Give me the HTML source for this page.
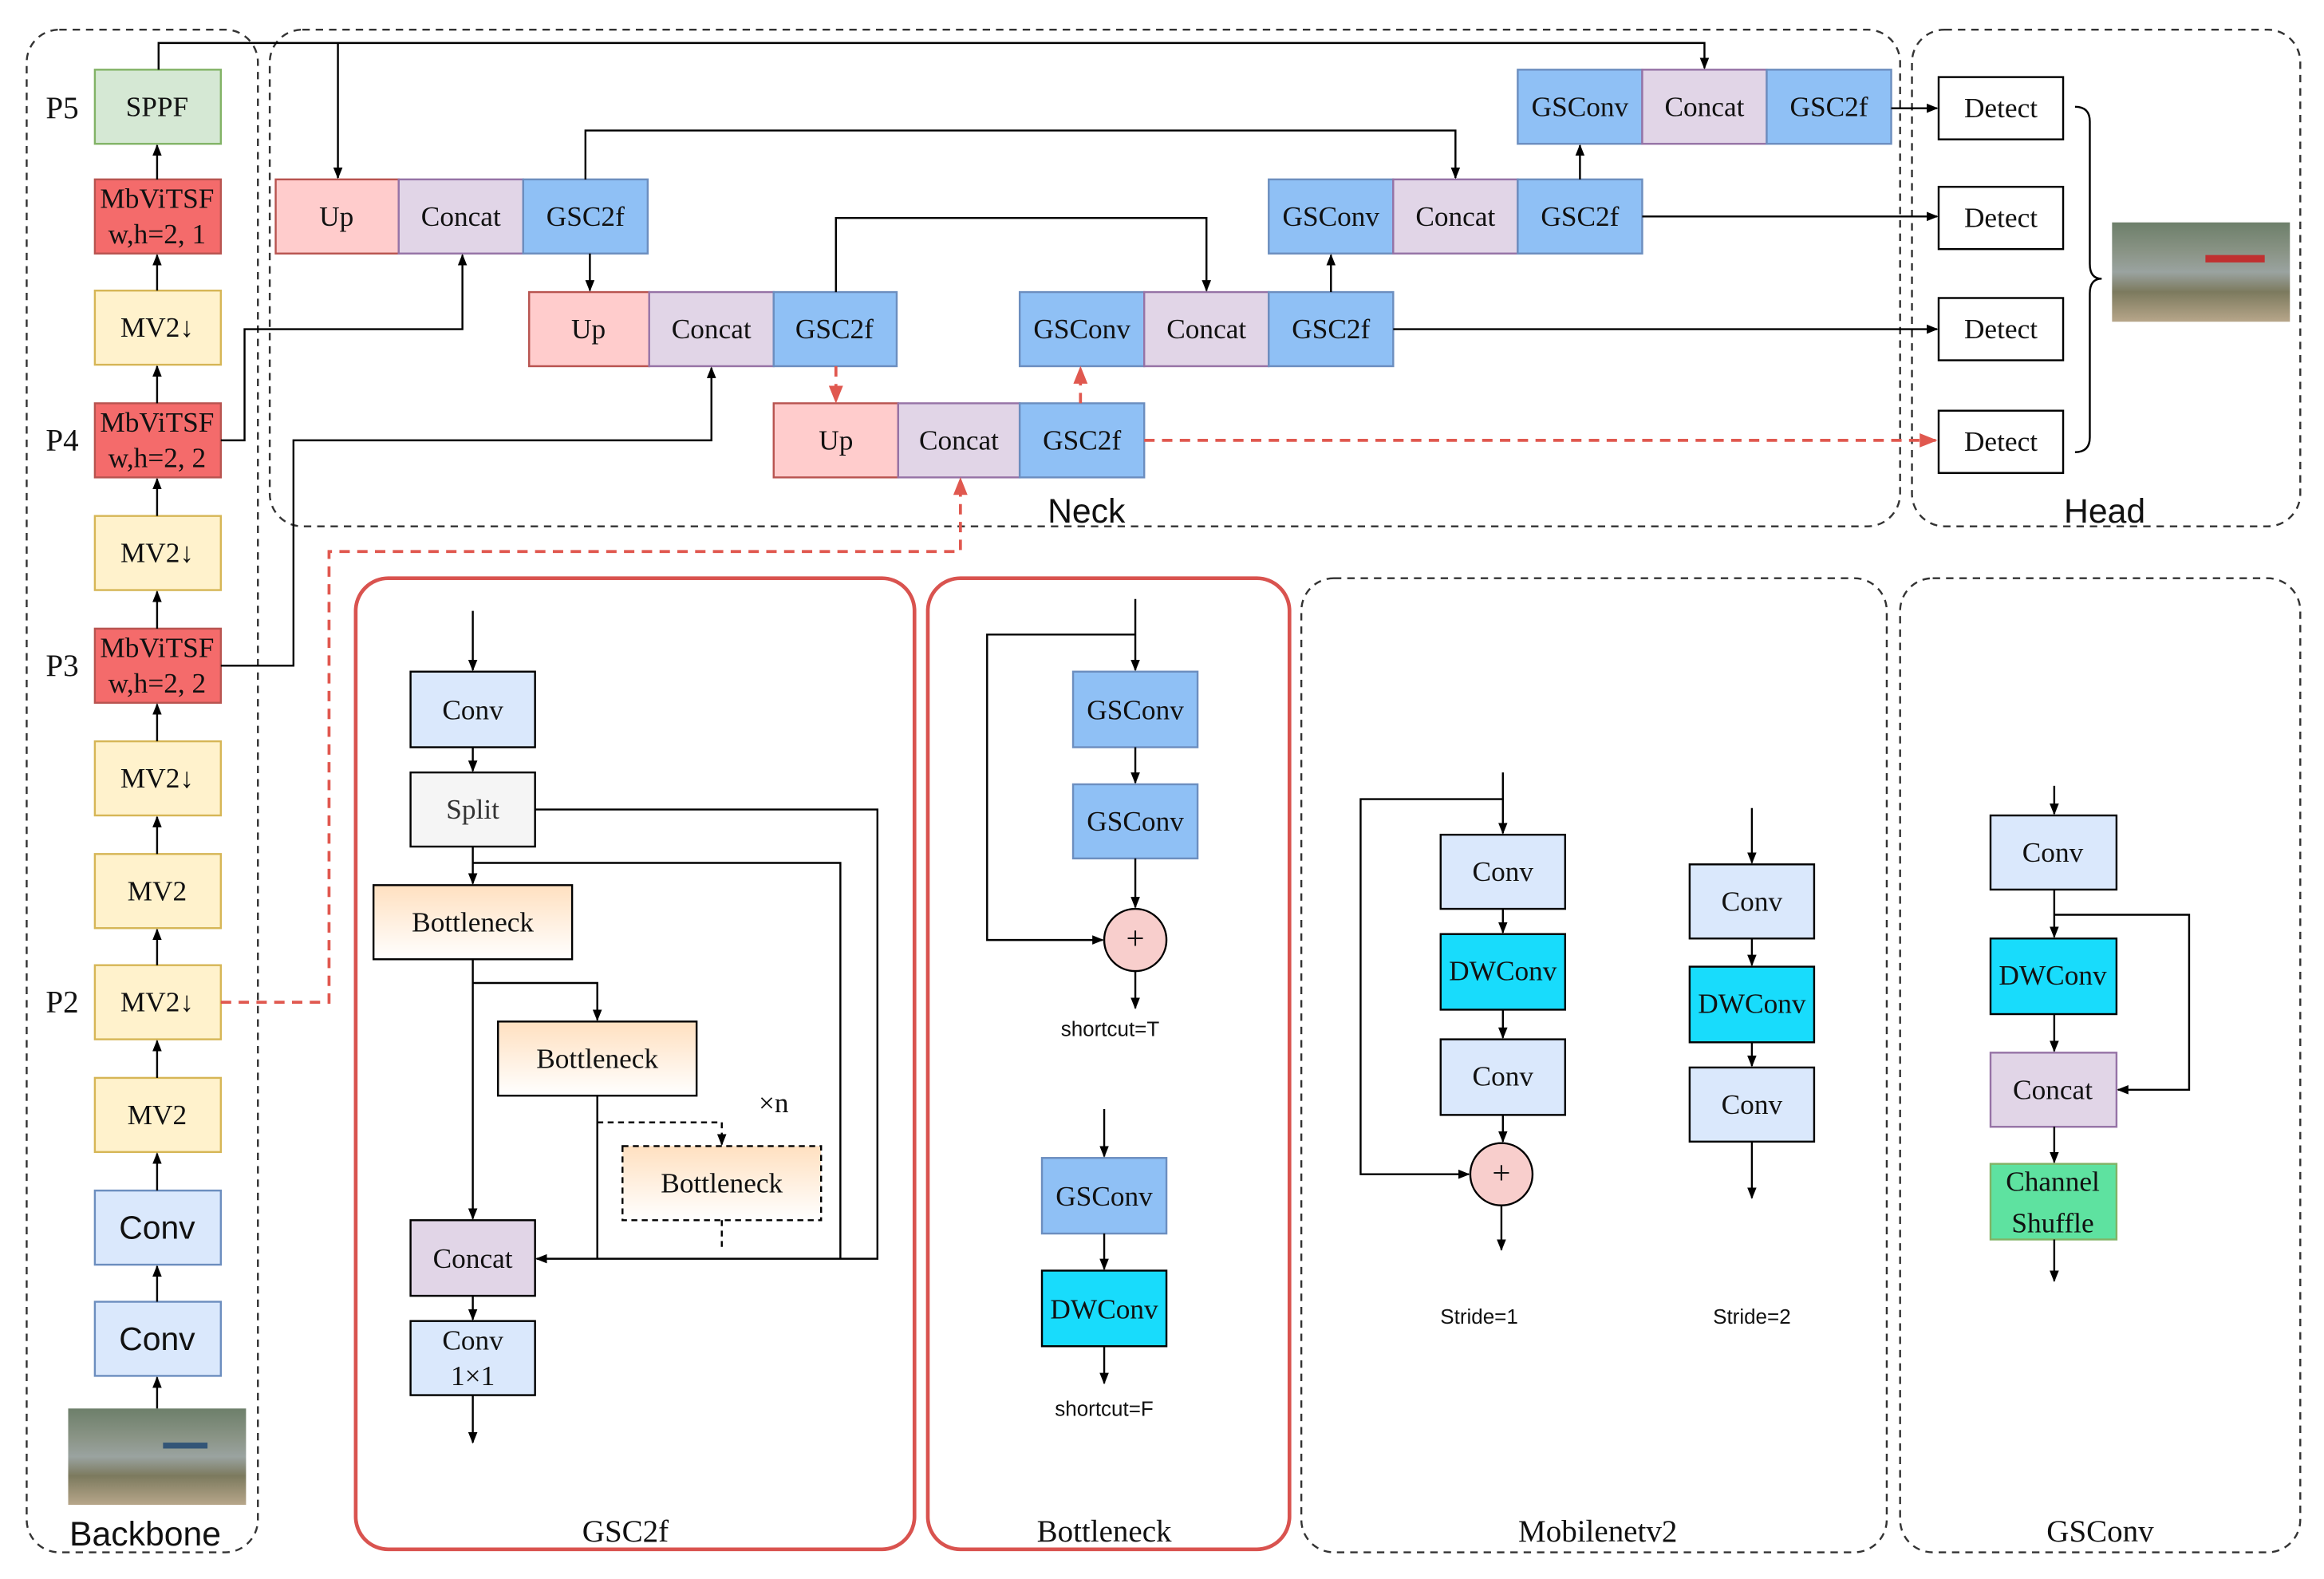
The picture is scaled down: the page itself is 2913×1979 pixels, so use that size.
<!DOCTYPE html>
<html><head><meta charset="utf-8"><style>
html,body{margin:0;padding:0;background:#fff;}
svg{display:block}
text{font-family:"Liberation Serif",serif;font-size:19px;fill:#111;text-anchor:middle;dominant-baseline:central}
.s{font-family:"Liberation Sans",sans-serif}
</style></head><body>
<svg width="2913" height="1979" viewBox="0 0 1568 1065" preserveAspectRatio="none" xmlns="http://www.w3.org/2000/svg">
<defs>
<marker id="a" viewBox="0 0 10 10" refX="9" refY="5" markerWidth="6" markerHeight="6" orient="auto"><path d="M0,1 L10,5 L0,9 z" fill="#000"/></marker>
<marker id="r" viewBox="0 0 10 10" refX="9" refY="5" markerWidth="6" markerHeight="6" orient="auto"><path d="M0,1 L10,5 L0,9 z" fill="#e0584f"/></marker>
<linearGradient id="bn" x1="0" y1="0" x2="0" y2="1"><stop offset="0" stop-color="#ffe0c0"/><stop offset="1" stop-color="#fff"/></linearGradient>
<linearGradient id="img" x1="0" y1="0" x2="0" y2="1"><stop offset="0" stop-color="#6d7f6a"/><stop offset="0.3" stop-color="#8a9486"/><stop offset="0.5" stop-color="#9aa3a0"/><stop offset="0.7" stop-color="#7c7a5e"/><stop offset="1" stop-color="#b7a68a"/></linearGradient>
</defs>
<g fill="none" stroke="#333" stroke-dasharray="5,4" stroke-width="1.3">
<rect x="18" y="20" width="156" height="1027" rx="22"/>
<rect x="182" y="20" width="1100" height="335" rx="22"/>
<rect x="1290" y="20" width="262" height="335" rx="22"/>
<rect x="878" y="390" width="395" height="657" rx="22"/>
<rect x="1282" y="390" width="270" height="657" rx="22"/>
</g>
<g fill="none" stroke="#d9534f" stroke-width="2.5">
<rect x="240" y="390" width="377" height="655" rx="22"/>
<rect x="626" y="390" width="244" height="655" rx="22"/>
</g>
<!-- backbone boxes -->
<g stroke-width="1.3">
<rect x="64" y="47" width="85" height="50" fill="#d5e8d4" stroke="#82b366"/>
<rect x="64" y="121" width="85" height="50" fill="#f46b6b" stroke="#b85450"/>
<rect x="64" y="196" width="85" height="50" fill="#fff2cc" stroke="#d6b656"/>
<rect x="64" y="272" width="85" height="50" fill="#f46b6b" stroke="#b85450"/>
<rect x="64" y="348" width="85" height="50" fill="#fff2cc" stroke="#d6b656"/>
<rect x="64" y="424" width="85" height="50" fill="#f46b6b" stroke="#b85450"/>
<rect x="64" y="500" width="85" height="50" fill="#fff2cc" stroke="#d6b656"/>
<rect x="64" y="576" width="85" height="50" fill="#fff2cc" stroke="#d6b656"/>
<rect x="64" y="651" width="85" height="50" fill="#fff2cc" stroke="#d6b656"/>
<rect x="64" y="727" width="85" height="50" fill="#fff2cc" stroke="#d6b656"/>
<rect x="64" y="803" width="85" height="50" fill="#dae8fc" stroke="#6c8ebf"/>
<rect x="64" y="878" width="85" height="50" fill="#dae8fc" stroke="#6c8ebf"/>
</g>
<rect x="46" y="950" width="120" height="65" fill="url(#img)"/>
<rect x="110" y="973" width="30" height="4" fill="#335577"/>
<rect x="1425" y="150" width="120" height="67" fill="url(#img)"/>
<rect x="1488" y="172" width="40" height="5" fill="#c03030"/>
<text x="106" y="72">SPPF</text>
<text x="106" y="134">MbViTSF</text><text x="106" y="158">w,h=2, 1</text>
<text x="106" y="221">MV2↓</text>
<text x="106" y="285">MbViTSF</text><text x="106" y="309">w,h=2, 2</text>
<text x="106" y="373">MV2↓</text>
<text x="106" y="437">MbViTSF</text><text x="106" y="461">w,h=2, 2</text>
<text x="106" y="525">MV2↓</text>
<text x="106" y="601">MV2</text>
<text x="106" y="676">MV2↓</text>
<text x="106" y="752">MV2</text>
<text x="106" y="828" style="font-size:22px" class="s">Conv</text>
<text x="106" y="903" style="font-size:22px" class="s">Conv</text>
<text x="42" y="73" style="font-size:21px">P5</text>
<text x="42" y="297" style="font-size:21px">P4</text>
<text x="42" y="449" style="font-size:21px">P3</text>
<text x="42" y="676" style="font-size:21px">P2</text>
<text x="98" y="1035" class="s" style="font-size:23px">Backbone</text>
<text x="733" y="345" class="s" style="font-size:23px">Neck</text>
<text x="1420" y="345" class="s" style="font-size:23px">Head</text>
<g stroke="#000" stroke-width="1.3" marker-end="url(#a)">
<line x1="106" y1="950" x2="106" y2="929"/>
<line x1="106" y1="878" x2="106" y2="854"/>
<line x1="106" y1="803" x2="106" y2="778"/>
<line x1="106" y1="727" x2="106" y2="702"/>
<line x1="106" y1="651" x2="106" y2="627"/>
<line x1="106" y1="576" x2="106" y2="551"/>
<line x1="106" y1="500" x2="106" y2="475"/>
<line x1="106" y1="424" x2="106" y2="399"/>
<line x1="106" y1="348" x2="106" y2="323"/>
<line x1="106" y1="272" x2="106" y2="247"/>
<line x1="106" y1="196" x2="106" y2="172"/>
<line x1="106" y1="121" x2="106" y2="98"/>
</g>
<!-- neck boxes -->
<g stroke-width="1.3">
<rect x="186" y="121" width="83" height="50" fill="#ffcccc" stroke="#b85450"/>
<rect x="269" y="121" width="84" height="50" fill="#e1d5e7" stroke="#9673a6"/>
<rect x="353" y="121" width="84" height="50" fill="#8fc0f5" stroke="#6c8ebf"/>
<rect x="357" y="197" width="81" height="50" fill="#ffcccc" stroke="#b85450"/>
<rect x="438" y="197" width="84" height="50" fill="#e1d5e7" stroke="#9673a6"/>
<rect x="522" y="197" width="83" height="50" fill="#8fc0f5" stroke="#6c8ebf"/>
<rect x="688" y="197" width="84" height="50" fill="#8fc0f5" stroke="#6c8ebf"/>
<rect x="772" y="197" width="84" height="50" fill="#e1d5e7" stroke="#9673a6"/>
<rect x="856" y="197" width="84" height="50" fill="#8fc0f5" stroke="#6c8ebf"/>
<rect x="522" y="272" width="84" height="50" fill="#ffcccc" stroke="#b85450"/>
<rect x="606" y="272" width="82" height="50" fill="#e1d5e7" stroke="#9673a6"/>
<rect x="688" y="272" width="84" height="50" fill="#8fc0f5" stroke="#6c8ebf"/>
<rect x="1024" y="47" width="84" height="50" fill="#8fc0f5" stroke="#6c8ebf"/>
<rect x="1108" y="47" width="84" height="50" fill="#e1d5e7" stroke="#9673a6"/>
<rect x="1192" y="47" width="84" height="50" fill="#8fc0f5" stroke="#6c8ebf"/>
<rect x="856" y="121" width="84" height="50" fill="#8fc0f5" stroke="#6c8ebf"/>
<rect x="940" y="121" width="84" height="50" fill="#e1d5e7" stroke="#9673a6"/>
<rect x="1024" y="121" width="84" height="50" fill="#8fc0f5" stroke="#6c8ebf"/>
<g fill="#fff" stroke="#000">
<rect x="1308" y="52" width="84" height="42"/><rect x="1308" y="126" width="84" height="42"/>
<rect x="1308" y="201" width="84" height="42"/><rect x="1308" y="277" width="84" height="42"/>
</g>
</g>
<text x="227" y="146">Up</text><text x="311" y="146">Concat</text><text x="395" y="146">GSC2f</text>
<text x="397" y="222">Up</text><text x="480" y="222">Concat</text><text x="563" y="222">GSC2f</text>
<text x="730" y="222">GSConv</text><text x="814" y="222">Concat</text><text x="898" y="222">GSC2f</text>
<text x="564" y="297">Up</text><text x="647" y="297">Concat</text><text x="730" y="297">GSC2f</text>
<text x="1066" y="72">GSConv</text><text x="1150" y="72">Concat</text><text x="1234" y="72">GSC2f</text>
<text x="898" y="146">GSConv</text><text x="982" y="146">Concat</text><text x="1066" y="146">GSC2f</text>
<text x="1350" y="73">Detect</text><text x="1350" y="147">Detect</text><text x="1350" y="222">Detect</text><text x="1350" y="298">Detect</text>
<path d="M1400,72 q10,0 10,10 v96 q0,10 8,10 q-8,0 -8,10 v97 q0,10 -10,10" fill="none" stroke="#000" stroke-width="1.3"/>
<g fill="none" stroke="#000" stroke-width="1.3" marker-end="url(#a)">
<path d="M107,47 V29 H1150 V46"/>
<path d="M228,29 V120"/>
<path d="M149,297 H165 V222 H312 V172"/>
<path d="M149,449 H198 V297 H480 V248"/>
<path d="M398,171 V196"/>
<path d="M395,121 V88 H982 V120"/>
<path d="M564,197 V147 H814 V196"/>
<path d="M898,197 V172"/>
<path d="M1066,121 V98"/>
<path d="M940,222 H1307"/>
<path d="M1108,146 H1307"/>
<path d="M1276,73 H1307"/>
</g>
<g fill="none" stroke="#e0584f" stroke-width="2" stroke-dasharray="7,5" marker-end="url(#r)">
<path d="M564,247 V271"/>
<path d="M729,272 V248"/>
<path d="M772,297 H1306"/>
<path d="M149,676 H222 V372 H648 V323"/>
</g>
<!-- GSC2f detail -->
<g stroke-width="1.3">
<rect x="277" y="453" width="84" height="51" fill="#dae8fc" stroke="#000"/>
<rect x="277" y="521" width="84" height="50" fill="#f5f5f5" stroke="#000"/>
<rect x="252" y="597" width="134" height="50" fill="url(#bn)" stroke="#000"/>
<rect x="336" y="689" width="134" height="50" fill="url(#bn)" stroke="#000"/>
<rect x="420" y="773" width="134" height="50" fill="url(#bn)" stroke="#000" stroke-dasharray="4,3"/>
<rect x="277" y="823" width="84" height="51" fill="#e1d5e7" stroke="#000"/>
<rect x="277" y="891" width="84" height="50" fill="#dae8fc" stroke="#000"/>
</g>
<text x="319" y="479">Conv</text><text x="319" y="546" style="fill:#333">Split</text>
<text x="319" y="622">Bottleneck</text><text x="403" y="714">Bottleneck</text><text x="487" y="798">Bottleneck</text>
<text x="319" y="849">Concat</text><text x="319" y="904">Conv</text><text x="319" y="928">1×1</text>
<text x="522" y="744">×n</text>
<text x="422" y="1033" style="font-size:21px">GSC2f</text>
<g fill="none" stroke="#000" stroke-width="1.3">
<path d="M319,412 V452" marker-end="url(#a)"/>
<path d="M319,504 V520" marker-end="url(#a)"/>
<path d="M361,546 H592 V849 H362" marker-end="url(#a)"/>
<path d="M319,571 V596" marker-end="url(#a)"/>
<path d="M319,582 H567 V849"/>
<path d="M319,647 V822" marker-end="url(#a)"/>
<path d="M319,663 H403 V688" marker-end="url(#a)"/>
<path d="M403,739 V849"/>
<path d="M403,757 H487 V772" stroke-dasharray="4,3" marker-end="url(#a)"/>
<path d="M487,823 V843" stroke-dasharray="4,3"/>
<path d="M319,874 V890" marker-end="url(#a)"/>
<path d="M319,941 V973" marker-end="url(#a)"/>
</g>
<!-- Bottleneck detail -->
<g stroke-width="1.3">
<rect x="724" y="453" width="84" height="51" fill="#8fc0f5" stroke="#6c8ebf"/>
<rect x="724" y="529" width="84" height="50" fill="#8fc0f5" stroke="#6c8ebf"/>
<circle cx="766" cy="634" r="21" fill="#f8cecc" stroke="#000"/>
<rect x="703" y="781" width="84" height="51" fill="#8fc0f5" stroke="#6c8ebf"/>
<rect x="703" y="857" width="84" height="51" fill="#18dcfc" stroke="#000"/>
</g>
<text x="766" y="479">GSConv</text><text x="766" y="554">GSConv</text><text x="766" y="633" style="font-size:22px">+</text>
<text x="745" y="807">GSConv</text><text x="745" y="883">DWConv</text>
<text x="749" y="694" class="s" style="font-size:14px">shortcut=T</text>
<text x="745" y="950" class="s" style="font-size:14px">shortcut=F</text>
<text x="745" y="1033" style="font-size:21px">Bottleneck</text>
<g fill="none" stroke="#000" stroke-width="1.3" marker-end="url(#a)">
<path d="M766,404 V452"/>
<path d="M766,428 H666 V634 H744"/>
<path d="M766,504 V528"/>
<path d="M766,579 V612"/>
<path d="M766,655 V680"/>
<path d="M745,748 V780"/>
<path d="M745,832 V856"/>
<path d="M745,908 V933"/>
</g>
<!-- Mobilenetv2 -->
<g stroke-width="1.3">
<rect x="972" y="563" width="84" height="50" fill="#dae8fc" stroke="#000"/>
<rect x="972" y="630" width="84" height="51" fill="#18dcfc" stroke="#000"/>
<rect x="972" y="701" width="84" height="51" fill="#dae8fc" stroke="#000"/>
<circle cx="1013" cy="792" r="21" fill="#f8cecc" stroke="#000"/>
<rect x="1140" y="583" width="84" height="50" fill="#dae8fc" stroke="#000"/>
<rect x="1140" y="652" width="84" height="51" fill="#18dcfc" stroke="#000"/>
<rect x="1140" y="720" width="84" height="50" fill="#dae8fc" stroke="#000"/>
</g>
<text x="1014" y="588">Conv</text><text x="1014" y="655">DWConv</text><text x="1014" y="726">Conv</text><text x="1013" y="791" style="font-size:22px">+</text>
<text x="1182" y="608">Conv</text><text x="1182" y="677">DWConv</text><text x="1182" y="745">Conv</text>
<text x="998" y="888" class="s" style="font-size:14px">Stride=1</text>
<text x="1182" y="888" class="s" style="font-size:14px">Stride=2</text>
<text x="1078" y="1033" style="font-size:21px">Mobilenetv2</text>
<g fill="none" stroke="#000" stroke-width="1.3" marker-end="url(#a)">
<path d="M1014,521 V562"/>
<path d="M1014,539 H918 V792 H991"/>
<path d="M1014,613 V629"/>
<path d="M1014,681 V700"/>
<path d="M1014,752 V770"/>
<path d="M1013,813 V843"/>
<path d="M1182,545 V582"/>
<path d="M1182,633 V651"/>
<path d="M1182,703 V719"/>
<path d="M1182,770 V808"/>
</g>
<!-- GSConv -->
<g stroke-width="1.3">
<rect x="1343" y="550" width="85" height="50" fill="#dae8fc" stroke="#000"/>
<rect x="1343" y="633" width="85" height="51" fill="#18dcfc" stroke="#000"/>
<rect x="1343" y="710" width="85" height="50" fill="#e1d5e7" stroke="#9673a6"/>
<rect x="1343" y="785" width="85" height="51" fill="#5ee2a0" stroke="#82b366"/>
</g>
<text x="1385" y="575">Conv</text><text x="1385" y="658">DWConv</text><text x="1385" y="735">Concat</text>
<text x="1385" y="797">Channel</text><text x="1385" y="825">Shuffle</text>
<text x="1417" y="1033" style="font-size:21px">GSConv</text>
<g fill="none" stroke="#000" stroke-width="1.3" marker-end="url(#a)">
<path d="M1386,530 V549"/>
<path d="M1386,600 V632"/>
<path d="M1386,617 H1477 V735 H1429"/>
<path d="M1386,684 V709"/>
<path d="M1386,760 V784"/>
<path d="M1386,836 V864"/>
</g>
</svg>
</body></html>
